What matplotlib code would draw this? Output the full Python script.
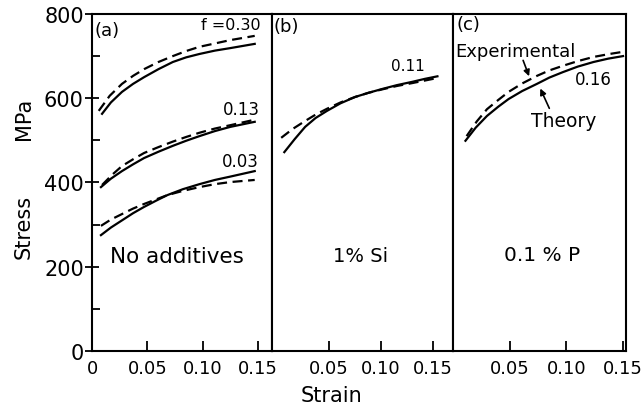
import matplotlib
matplotlib.use('Agg')
import matplotlib.pyplot as plt
from matplotlib.ticker import MultipleLocator

# Stress-strain curves, solid = theory, dashed = experimental
# panel (a): no additives, f = 0.30, 0.13, 0.03
a30_th_strain = [0.009, 0.017, 0.027, 0.037, 0.047, 0.060, 0.073, 0.085, 0.097, 0.111, 0.125, 0.147]
a30_th_stress = [563, 590, 615, 634, 650, 669, 686, 697, 705, 713, 719, 729]
a30_ex_strain = [0.006, 0.016, 0.027, 0.037, 0.047, 0.060, 0.073, 0.085, 0.097, 0.111, 0.125, 0.147]
a30_ex_stress = [570, 606, 634, 653, 669, 686, 700, 712, 722, 730, 738, 748]

a13_th_strain = [0.008, 0.017, 0.027, 0.037, 0.047, 0.060, 0.073, 0.085, 0.097, 0.111, 0.125, 0.147]
a13_th_stress = [389, 409, 427, 443, 458, 473, 487, 499, 510, 522, 532, 544]
a13_ex_strain = [0.009, 0.018, 0.027, 0.037, 0.047, 0.060, 0.073, 0.085, 0.097, 0.111, 0.125, 0.147]
a13_ex_stress = [394, 418, 439, 455, 470, 484, 497, 508, 518, 528, 536, 549]

a03_th_strain = [0.008, 0.017, 0.027, 0.037, 0.047, 0.058, 0.068, 0.082, 0.097, 0.111, 0.125, 0.147]
a03_th_stress = [275, 293, 310, 327, 342, 357, 370, 384, 396, 406, 414, 427]
a03_ex_strain = [0.008, 0.017, 0.027, 0.037, 0.047, 0.058, 0.068, 0.082, 0.097, 0.111, 0.125, 0.147]
a03_ex_stress = [297, 312, 325, 338, 349, 360, 370, 380, 389, 396, 401, 406]

# panel (b): 1% Si, f = 0.11
b_th_strain = [0.007, 0.017, 0.027, 0.037, 0.048, 0.061, 0.075, 0.088, 0.101, 0.115, 0.130, 0.142, 0.154]
b_th_stress = [472, 503, 532, 553, 570, 588, 603, 613, 622, 631, 639, 646, 652]
b_ex_strain = [0.004, 0.015, 0.027, 0.037, 0.048, 0.061, 0.075, 0.088, 0.101, 0.115, 0.130, 0.154]
b_ex_stress = [506, 527, 546, 561, 575, 590, 603, 613, 621, 629, 636, 648]

# panel (c): 0.1% P, f = 0.16
c_th_strain = [0.011, 0.020, 0.030, 0.040, 0.049, 0.061, 0.074, 0.085, 0.097, 0.110, 0.124, 0.137, 0.150]
c_th_stress = [499, 530, 558, 580, 598, 617, 634, 649, 662, 675, 686, 694, 700]
c_ex_strain = [0.012, 0.021, 0.030, 0.040, 0.049, 0.061, 0.074, 0.085, 0.097, 0.110, 0.124, 0.138, 0.152]
c_ex_stress = [510, 545, 574, 596, 615, 635, 653, 666, 677, 688, 698, 705, 711]

x_ticks = [0.05, 0.10, 0.15]
x_ticklabels = ['0.05', '0.10', '0.15']
y_ticks = [0, 200, 400, 600, 800]

LW = 1.6
DASH = (0, (4.5, 2.5))
FS = 14

plt.rcParams['font.family'] = 'DejaVu Sans'
fig = plt.figure(figsize=(6.44, 4.10), dpi=100)

bottom = 0.1415
height = 0.822
ax_a = fig.add_axes([0.143, bottom, 0.2795, height])
ax_b = fig.add_axes([0.4224, bottom, 0.2811, height])
ax_c = fig.add_axes([0.7034, bottom, 0.2686, height])

ax_a.set_xlim(0, 0.1627)
ax_b.set_xlim(-0.0048, 0.169)
ax_c.set_xlim(0, 0.1526)

for ax in (ax_a, ax_b, ax_c):
    ax.set_ylim(0, 800)
    for s in ax.spines.values():
        s.set_linewidth(1.5)
    ax.set_xticks(x_ticks)
    ax.set_xticklabels(x_ticklabels, fontsize=13)
    ax.tick_params(axis='x', direction='in', length=7, width=1.3, pad=6)
    ax.tick_params(axis='y', left=False, labelleft=False)

# only panel (a) carries the stress scale
ax_a.set_yticks(y_ticks)
ax_a.set_yticklabels([str(v) for v in y_ticks], fontsize=15)
ax_a.yaxis.set_minor_locator(MultipleLocator(100))
ax_a.tick_params(axis='y', which='major', left=True, labelleft=True,
                 direction='inout', length=10, width=1.3, pad=1)
ax_a.tick_params(axis='y', which='minor', left=True, direction='in', length=6, width=1.3)
ax_a.set_xticks([0] + x_ticks)
ax_a.set_xticklabels(['0'] + x_ticklabels, fontsize=13)

# curves
ax_a.plot(a30_th_strain, a30_th_stress, 'k-', lw=LW)
ax_a.plot(a30_ex_strain, a30_ex_stress, color='k', ls=DASH, lw=LW)
ax_a.plot(a13_th_strain, a13_th_stress, 'k-', lw=LW)
ax_a.plot(a13_ex_strain, a13_ex_stress, color='k', ls=DASH, lw=LW)
ax_a.plot(a03_th_strain, a03_th_stress, 'k-', lw=LW)
ax_a.plot(a03_ex_strain, a03_ex_stress, color='k', ls=DASH, lw=LW)

ax_b.plot(b_th_strain, b_th_stress, 'k-', lw=LW)
ax_b.plot(b_ex_strain, b_ex_stress, color='k', ls=DASH, lw=LW)

ax_c.plot(c_th_strain, c_th_stress, 'k-', lw=LW)
ax_c.plot(c_ex_strain, c_ex_stress, color='k', ls=DASH, lw=LW)

# panel texts
ax_a.text(0.002, 762, '(a)', fontsize=FS - 1, va='center')
ax_a.text(0.152, 774, 'f =0.30', fontsize=FS - 2.5, ha='right', va='center')
ax_a.text(0.135, 575, '0.13', fontsize=FS - 2, ha='center', va='center')
ax_a.text(0.134, 451, '0.03', fontsize=FS - 2, ha='center', va='center')
ax_a.text(0.077, 226, 'No additives', fontsize=FS + 1.5, ha='center', va='center')

ax_b.text(-0.003, 772, '(b)', fontsize=FS - 1, va='center')
ax_b.text(0.126, 677, '0.11', fontsize=FS - 3, ha='center', va='center')
ax_b.text(0.080, 226, '1% Si', fontsize=FS, ha='center', va='center')

ax_c.text(0.003, 775, '(c)', fontsize=FS - 1, va='center')
ax_c.text(0.002, 712, 'Experimental', fontsize=FS - 1, va='center')
ax_c.text(0.124, 646, '0.16', fontsize=FS - 2, ha='center', va='center')
ax_c.text(0.098, 546, 'Theory', fontsize=FS - 0.5, ha='center', va='center')
ax_c.text(0.079, 230, '0.1 % P', fontsize=FS + 0.5, ha='center', va='center')
ax_c.annotate('', xy=(0.068, 646), xytext=(0.061, 696),
              arrowprops=dict(arrowstyle='-|>', color='k', lw=1.2, mutation_scale=9))
ax_c.annotate('', xy=(0.076, 629), xytext=(0.086, 570),
              arrowprops=dict(arrowstyle='-|>', color='k', lw=1.2, mutation_scale=9))

# axis titles
fig.text(24 / 644, 1 - 227 / 410, 'Stress', rotation=90, fontsize=15, ha='center', va='center')
fig.text(24 / 644, 1 - 119 / 410, 'MPa', rotation=90, fontsize=15, ha='center', va='center')
fig.text(332 / 644, 1 - 396 / 410, 'Strain', fontsize=15, ha='center', va='center')

fig.savefig('out.png', dpi=100)
